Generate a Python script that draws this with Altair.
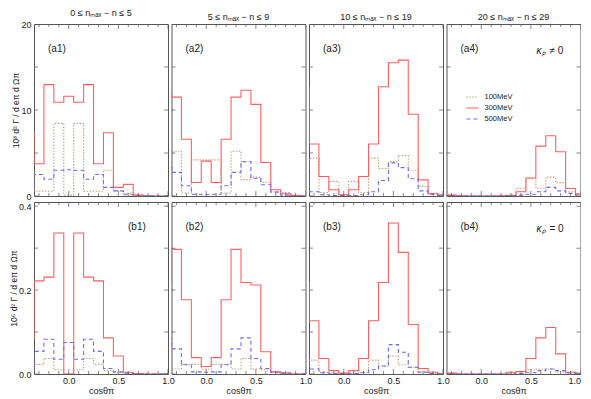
import altair as alt
import pandas as pd

# bin centres (first one lies just left of the plotted range, last one partly visible)
centers = [-0.4, -0.3, -0.2, -0.1, 0.0, 0.1, 0.2, 0.3, 0.4, 0.5, 0.6, 0.7, 0.8, 0.9, 1.0]
energies = ["100MeV", "300MeV", "500MeV"]

# top row (kappa_p != 0), units 10^3
a1_100 = [3.0, 0.55, 0.55, 8.45, 0.1, 8.45, 0.55, 0.55, 3.0, 0.6, 0.3, 0.2, 0.05, 0.0, 0.0]
a1_300 = [7.35, 3.75, 12.95, 10.9, 11.6, 10.9, 12.95, 3.75, 7.35, 1.0, 1.35, 0.1, 0.03, 0.0, 0.0]
a1_500 = [1.0, 2.5, 1.95, 3.0, 3.05, 3.0, 1.95, 2.5, 1.0, 0.6, 0.15, 0.05, 0.0, 0.0, 0.0]

a2_100 = [1.9, 5.2, 0.35, 4.2, 4.2, 4.2, 0.35, 5.2, 1.9, 2.2, 1.6, 0.5, 0.4, 0.1, 0.0]
a2_300 = [12.3, 11.5, 6.6, 1.57, 4.06, 1.57, 6.6, 11.5, 12.3, 10.65, 3.9, 0.73, 0.27, 0.05, 0.0]
a2_500 = [4.0, 2.75, 1.2, 0.2, 0.15, 0.2, 1.2, 2.75, 4.0, 2.07, 1.3, 0.45, 0.1, 0.0, 0.0]

a3_100 = [3.2, 4.4, 0.4, 1.7, 0.1, 1.7, 0.4, 4.4, 3.2, 4.0, 4.7, 3.0, 1.1, 0.3, 0.1]
a3_300 = [12.7, 6.05, 2.26, 0.73, 0.15, 0.73, 2.26, 6.05, 12.7, 15.5, 15.8, 9.5, 1.88, 0.27, 0.1]
a3_500 = [1.8, 0.5, 0.15, 0.05, 0.05, 0.05, 0.15, 0.5, 1.8, 3.85, 3.3, 2.0, 0.6, 0.2, 0.05]

a4_100 = [0.1, 0.15, 0.02, 0.0, 0.0, 0.0, 0.02, 0.1, 0.9, 2.0, 0.9, 2.2, 1.55, 0.5, 0.2]
a4_300 = [0.1, 0.1, 0.02, 0.0, 0.0, 0.0, 0.02, 0.05, 0.5, 2.1, 5.8, 7.0, 5.15, 0.88, 0.25]
a4_500 = [0.05, 0.05, 0.0, 0.0, 0.0, 0.0, 0.0, 0.02, 0.1, 0.2, 0.5, 1.0, 0.6, 0.3, 0.1]

# bottom row (kappa_p = 0), units 10^6
b1_100 = [0.008, 0.023, 0.037, 0.01, 0.0, 0.01, 0.037, 0.023, 0.008, 0.003, 0.002, 0.0, 0.0, 0.0, 0.0]
b1_300 = [0.086, 0.222, 0.231, 0.336, 0.0, 0.336, 0.231, 0.222, 0.086, 0.043, 0.004, 0.001, 0.0, 0.0, 0.0]
b1_500 = [0.013, 0.054, 0.083, 0.035, 0.075, 0.035, 0.083, 0.054, 0.013, 0.005, 0.002, 0.0, 0.0, 0.0, 0.0]

b2_100 = [0.037, 0.012, 0.023, 0.023, 0.012, 0.023, 0.023, 0.012, 0.037, 0.012, 0.01, 0.003, 0.002, 0.0, 0.0]
b2_300 = [0.218, 0.297, 0.177, 0.039, 0.018, 0.039, 0.177, 0.297, 0.218, 0.212, 0.053, 0.005, 0.002, 0.0, 0.0]
b2_500 = [0.086, 0.06, 0.022, 0.005, 0.004, 0.005, 0.022, 0.06, 0.086, 0.037, 0.013, 0.004, 0.002, 0.0, 0.0]

b3_100 = [0.019, 0.033, 0.004, 0.002, 0.002, 0.002, 0.004, 0.033, 0.019, 0.043, 0.022, 0.016, 0.005, 0.002, 0.0]
b3_300 = [0.218, 0.127, 0.037, 0.008, 0.002, 0.008, 0.037, 0.127, 0.218, 0.36, 0.29, 0.118, 0.013, 0.004, 0.0]
b3_500 = [0.019, 0.012, 0.003, 0.001, 0.001, 0.001, 0.003, 0.01, 0.019, 0.07, 0.052, 0.016, 0.004, 0.001, 0.0]

b4_100 = [0.0, 0.001, 0.0, 0.0, 0.0, 0.0, 0.0, 0.001, 0.003, 0.01, 0.012, 0.012, 0.005, 0.002, 0.0]
b4_300 = [0.0, 0.002, 0.0, 0.0, 0.0, 0.0, 0.0, 0.004, 0.006, 0.037, 0.086, 0.111, 0.048, 0.004, 0.002]
b4_500 = [0.0, 0.001, 0.0, 0.0, 0.0, 0.0, 0.0, 0.0, 0.001, 0.003, 0.008, 0.012, 0.008, 0.003, 0.001]

col_titles = ["0  ≤ nₘₐₓ − n ≤ 5", "5  ≤ nₘₐₓ − n ≤ 9", "10  ≤ nₘₐₓ − n ≤ 19", "20  ≤ nₘₐₓ − n ≤ 29"]
top_labels = ["(a1)", "(a2)", "(a3)", "(a4)"]
bottom_labels = ["(b1)", "(b2)", "(b3)", "(b4)"]
kappa_sym = "κₚ"
kappa_top = "≠ 0"
kappa_bottom = "= 0"

x_ticks = [-0.3, -0.2, -0.1, 0.0, 0.1, 0.2, 0.3, 0.4, 0.5, 0.6, 0.7, 0.8, 0.9, 1.0]
x_labels = [0.0, 0.5, 1.0]
y_ticks_top = [0, 5, 10, 15, 20]
y_labels_top = [0, 10, 20]
y_ticks_bottom = [0.0, 0.1, 0.2, 0.3, 0.4]
y_labels_bottom = [0.0, 0.2, 0.4]

series = {
    "a1": [a1_100, a1_300, a1_500], "a2": [a2_100, a2_300, a2_500],
    "a3": [a3_100, a3_300, a3_500], "a4": [a4_100, a4_300, a4_500],
    "b1": [b1_100, b1_300, b1_500], "b2": [b2_100, b2_300, b2_500],
    "b3": [b3_100, b3_300, b3_500], "b4": [b4_100, b4_300, b4_500],
}

rows = []
for pid, lst in series.items():
    for e, vals in zip(energies, lst):
        for c, v in zip(centers, vals):
            rows.append({"panel": pid, "energy": e, "x": round(c - 0.05, 3), "v": v})
        rows.append({"panel": pid, "energy": e, "x": round(centers[-1] + 0.05, 3), "v": vals[-1]})
df = pd.DataFrame(rows)

FONT = "Liberation Sans"
W, H = 134, 172
FRAME = "#555555"
TXT = "#222222"

cscale = alt.Scale(domain=energies, range=["#c9a27e", "#ff5f5f", "#6b6bff"])
dscale = alt.Scale(domain=energies, range=[[1.5, 1.5], [1, 0], [4, 3]])
leg = alt.Legend(title=None, orient="none", legendX=19, legendY=66, symbolType="stroke",
                 symbolSize=150, symbolStrokeWidth=1.2, labelFontSize=7.5, labelFont=FONT,
                 labelColor=TXT, rowPadding=0, labelOffset=5)


def panel(row, col):
    pid = ("a" if row == 0 else "b") + str(col + 1)
    ymax = 20 if row == 0 else 0.41
    xs = alt.Scale(domain=[-0.35, 1.0], nice=False, zero=False)
    ys = alt.Scale(domain=[0, ymax], nice=False, zero=True)
    if row == 1:
        xaxis = alt.Axis(values=x_labels, format=".1f", title="cosθπ", grid=False, domain=False,
                         ticks=False, labelFontSize=9, labelFont=FONT, labelPadding=2,
                         labelFlush=(col == 3), labelOverlap=False, titleFont=FONT, titleFontSize=9,
                         titleFontWeight="normal", titlePadding=1, labelColor=TXT, titleColor=TXT)
    else:
        xaxis = None
    if col == 0:
        yvals = y_labels_top if row == 0 else y_labels_bottom
        ytitle = "10³ d² Γ / d eπ d Ωπ" if row == 0 else "10⁶ d² Γ / d eπ d Ωπ"
        yaxis = alt.Axis(values=yvals, format="d" if row == 0 else ".1f", title=ytitle, grid=False,
                         domain=False, ticks=False, labelFontSize=9, labelFont=FONT, labelPadding=3,
                         labelFlush=False, labelOverlap=False, titleFont=FONT, titleFontSize=8.5,
                         titleFontWeight="normal", titlePadding=0, labelColor=TXT, titleColor=TXT)
    else:
        yaxis = None

    sub = df[df.panel == pid]
    this_leg = leg if pid == "a4" else None
    lines = alt.Chart(sub).mark_line(interpolate="step-after", clip=True, strokeWidth=1.1).encode(
        x=alt.X("x:Q", scale=xs, axis=xaxis),
        y=alt.Y("v:Q", scale=ys, axis=yaxis),
        color=alt.Color("energy:N", scale=cscale, legend=this_leg),
        strokeDash=alt.StrokeDash("energy:N", scale=dscale, legend=this_leg),
        detail="energy:N",
    )

    xt = alt.Chart(pd.DataFrame({"x": x_ticks})).transform_calculate(
        len="abs(datum.x*2 - round(datum.x*2)) < 0.001 ? 10 : 6")
    ytv = y_ticks_top if row == 0 else y_ticks_bottom
    yt = alt.Chart(pd.DataFrame({"v": ytv}))
    tick_layers = []
    for yy in (0, H):
        tick_layers.append(xt.mark_tick(orient="vertical", clip=True, thickness=1, color=FRAME).encode(
            x=alt.X("x:Q", scale=xs, axis=xaxis), y=alt.value(yy),
            size=alt.Size("len:Q", scale=None, legend=None)))
    for xx in (0, W):
        tick_layers.append(yt.mark_tick(orient="horizontal", clip=True, thickness=1, color=FRAME,
                                        size=8).encode(
            y=alt.Y("v:Q", scale=ys, axis=yaxis), x=alt.value(xx)))

    txt = top_labels[col] if row == 0 else bottom_labels[col]
    lx = 14 if not (row == 1 and col == 0) else 94
    lab = alt.Chart(pd.DataFrame({"t": [txt]})).mark_text(
        align="left", baseline="middle", fontSize=10, font=FONT, color=TXT).encode(
        text="t:N", x=alt.value(lx), y=alt.value(25))
    layers = [lines] + tick_layers + [lab]
    if col == 3:
        kt = kappa_top if row == 0 else kappa_bottom
        ksym = alt.Chart(pd.DataFrame({"t": [kappa_sym]})).mark_text(
            align="left", baseline="middle", fontSize=10, font=FONT, color=TXT,
            fontStyle="italic").encode(text="t:N", x=alt.value(90), y=alt.value(27))
        krest = alt.Chart(pd.DataFrame({"t": [kt]})).mark_text(
            align="left", baseline="middle", fontSize=10, font=FONT, color=TXT).encode(
            text="t:N", x=alt.value(103), y=alt.value(27))
        layers += [ksym, krest]

    props = dict(width=W, height=H)
    if row == 0:
        props["title"] = alt.TitleParams(col_titles[col], fontSize=9, font=FONT, fontWeight="normal",
                                         offset=2, anchor="middle", color=TXT)
    return alt.layer(*layers).properties(**props)


panels = [panel(r, c) for r in range(2) for c in range(4)]
chart = alt.concat(*panels, columns=4, spacing={"row": 6, "column": 3.5}).properties(
    bounds="flush", padding=0, background="white"
).resolve_legend(color="independent", strokeDash="independent").configure_view(
    stroke=FRAME, strokeWidth=1)

chart.save("out.html", embed_options={"renderer": "svg", "actions": False})
